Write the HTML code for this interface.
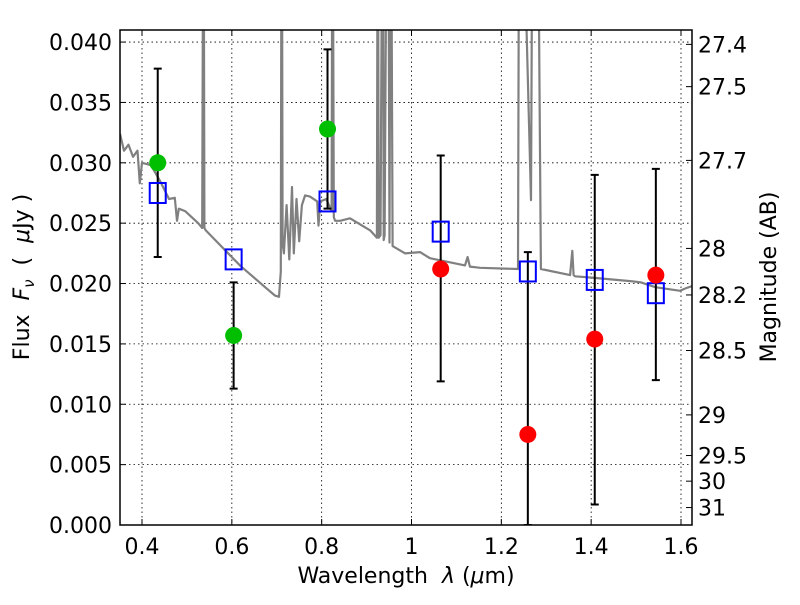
<!DOCTYPE html>
<html><head><meta charset="utf-8"><style>
body{margin:0;background:#fff}
svg{font-family:"DejaVu Sans","Liberation Sans",sans-serif}
</style></head><body>
<svg id="chart" width="800" height="600" xmlns="http://www.w3.org/2000/svg">
<defs><clipPath id="clip"><rect x="120" y="30" width="572" height="495"/></clipPath></defs>
<rect width="800" height="600" fill="#fff"/>
<g id="grid"></g>
<g id="plot" clip-path="url(#clip)"></g>
<g id="axes"></g>
<text x="406" y="583" font-size="22" text-anchor="middle">Wavelength&#160;&#160;<tspan font-style="italic">λ</tspan> (<tspan font-style="italic">μ</tspan>m)</text>
<text transform="translate(29,277) rotate(-90)" font-size="22" text-anchor="middle">Flux&#160;&#160;<tspan font-style="italic">F</tspan><tspan font-style="italic" font-size="15" dy="5">ν</tspan><tspan dy="-5">&#160;&#160;(&#160;&#160;</tspan><tspan font-style="italic">μ</tspan>Jy )</text>
<text transform="translate(776,277) rotate(-90)" font-size="22" text-anchor="middle">Magnitude (AB)</text>
</svg>
<script>
const xTicks=[0.4,0.6,0.8,1.0,1.2,1.4,1.6];
const xTickLabels=["0.4","0.6","0.8","1","1.2","1.4","1.6"];
const yTicks=[0,0.005,0.01,0.015,0.02,0.025,0.03,0.035,0.04];
const yTickLabels=["0.000","0.005","0.010","0.015","0.020","0.025","0.030","0.035","0.040"];
const magTicks=[27.4,27.5,27.7,28,28.2,28.5,29,29.5,30,31];
const magTickLabels=["27.4","27.5","27.7","28","28.2","28.5","29","29.5","30","31"];
const specWave=[0.351,0.36,0.37,0.38,0.39,0.395,0.40,0.42,0.44,0.46,0.473,0.478,0.482,0.496,0.525,0.534,0.537,0.539,0.542,0.618,0.674,0.696,0.705,0.709,0.711,0.713,0.716,0.722,0.728,0.734,0.738,0.744,0.75,0.756,0.763,0.774,0.79,0.793,0.797,0.81,0.822,0.824,0.827,0.83,0.841,0.863,0.908,0.923,0.925,0.927,0.931,0.936,0.938,0.94,0.946,0.948,0.951,0.954,0.958,0.986,1.019,1.041,1.119,1.125,1.13,1.153,1.237,1.24,1.243,1.266,1.27,1.28,1.288,1.353,1.358,1.361,1.364,1.398,1.487,1.51,1.543,1.598,1.61,1.625];
const specFlux=[0.0324,0.031,0.0315,0.0305,0.031,0.0283,0.030,0.0298,0.0285,0.027,0.0271,0.0252,0.0262,0.026,0.025,0.0246,0.06,0.0246,0.0244,0.0215,0.0197,0.019,0.0189,0.021,0.06,0.0233,0.0225,0.0265,0.022,0.028,0.0225,0.027,0.0235,0.0265,0.0273,0.0272,0.0268,0.0248,0.0268,0.027,0.026,0.06,0.0255,0.0252,0.0252,0.0254,0.0244,0.0238,0.06,0.0238,0.024,0.06,0.0236,0.024,0.06,0.06,0.0234,0.06,0.0231,0.0225,0.0226,0.0221,0.0215,0.0222,0.0214,0.0213,0.0212,0.06,0.06,0.0269,0.06,0.06,0.0212,0.0207,0.0227,0.0207,0.0206,0.0205,0.0202,0.0201,0.0197,0.0194,0.0196,0.0198];
const bandWave=[0.435,0.604,0.813,1.065,1.259,1.408,1.544];
const modelFlux=[0.0275,0.022,0.0268,0.0243,0.021,0.0203,0.0192];
const obsFlux=[0.030,0.0157,0.0328,0.0212,0.0075,0.0154,0.0207];
const errLow=[0.0222,0.0113,0.0262,0.0119,0,0.0017,0.012];
const errHigh=[0.0378,0.0201,0.0394,0.0306,0.0226,0.029,0.0295];
const detected=[1,1,1,0,0,0,0];

const NS="http://www.w3.org/2000/svg";
const X0=120,X1=692,Y0=525,Y1=30;
const xmin=0.351,xmax=1.6245,ymin=0,ymax=0.041;
const sx=v=>X0+(v-xmin)/(xmax-xmin)*(X1-X0);
const sy=v=>Y0-(v-ymin)/(ymax-ymin)*(Y0-Y1);
const magToFlux=m=>Math.pow(10,(23.9-m)/2.5);
function mk(tag,attrs,parent){const e=document.createElementNS(NS,tag);for(const k in attrs)e.setAttribute(k,attrs[k]);parent.appendChild(e);return e;}
const grid=document.getElementById('grid'),plot=document.getElementById('plot'),axes=document.getElementById('axes');

xTicks.forEach((t,i)=>{
  const l=mk('line',{x1:sx(t),x2:sx(t),y1:Y1,y2:Y0,stroke:'#000','stroke-width':0.8,'stroke-dasharray':'1.5,3'},grid);
  
  
  const tk=mk('path',{d:`M${sx(t)},${Y0}v-6M${sx(t)},${Y1}v6`,stroke:'#000','stroke-width':1},axes);
  
  
  const tx=mk('text',{x:sx(t),y:554,'font-size':22,'text-anchor':'middle'},axes);
  tx.textContent=xTickLabels[i];
  
  
});
yTicks.forEach((t,i)=>{
  const l=mk('line',{x1:X0,x2:X1,y1:sy(t),y2:sy(t),stroke:'#000','stroke-width':0.8,'stroke-dasharray':'1.5,3'},grid);
  
  
  const tk=mk('path',{d:`M${X0},${sy(t)}h6`,stroke:'#000','stroke-width':1},axes);
  
  
  const tx=mk('text',{x:112,y:sy(t)+8,'font-size':22,'text-anchor':'end'},axes);
  tx.textContent=yTickLabels[i];
  
  
});
magTicks.forEach((m,i)=>{
  const y=sy(magToFlux(m));
  const tk=mk('path',{d:`M${X1},${y}h-6`,stroke:'#000','stroke-width':1},axes);
  
  
  const tx=mk('text',{x:698,y:y+8,'font-size':22},axes);
  tx.textContent=magTickLabels[i];
  
  
});
let d='';specWave.forEach((w,i)=>{d+=(i?'L':'M')+sx(w).toFixed(1)+','+sy(specFlux[i]).toFixed(1);});
const sp=mk('path',{d:d,fill:'none',stroke:'#808080','stroke-width':2.2,'stroke-linejoin':'round'},plot);


bandWave.forEach((w,i)=>{
  const x=sx(w),a=sy(errLow[i]),b=sy(errHigh[i]);
  const e=mk('path',{d:`M${x},${a}V${b}M${x-4},${a}h8M${x-4},${b}h8`,stroke:'#000','stroke-width':2},plot);
  
  
});
bandWave.forEach((w,i)=>{
  const r=mk('rect',{x:sx(w)-8,y:sy(modelFlux[i])-10,width:16,height:20,fill:'none',stroke:'#0000ff','stroke-width':2},plot);
  
  
});
bandWave.forEach((w,i)=>{
  const c=mk('circle',{cx:sx(w),cy:sy(obsFlux[i]),r:8.5,fill:detected[i]?'#00bf00':'#ff0000'},plot);
  
  
});
const fr=mk('rect',{x:X0,y:Y1,width:X1-X0,height:Y0-Y1,fill:'none',stroke:'#000','stroke-width':1.5},axes);


</script>
</body></html>
